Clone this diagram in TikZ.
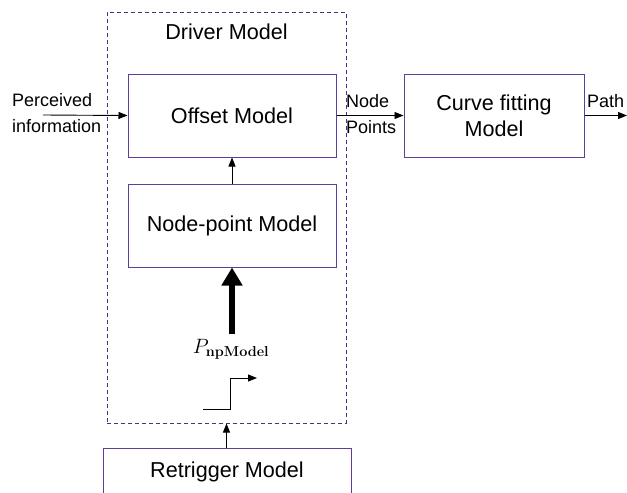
\documentclass[tikz,border=0pt]{standalone}
\usepackage{amsmath}
\usepackage[no-math]{fontspec}
\setmainfont{Liberation Sans}
\usetikzlibrary{arrows.meta,positioning}
\definecolor{boxpurple}{HTML}{5E3E96}
\definecolor{dashpurple}{HTML}{4F2D86}

\tikzset{
  modelbox/.style={draw=boxpurple,line width=1pt,inner sep=0pt,align=center,font=\fontsize{21.6}{26}\selectfont},
  drvbox/.style={draw=dashpurple,line width=1pt,dash pattern=on 4pt off 3pt,inner sep=0pt},
  sig/.style={font=\fontsize{18}{26}\selectfont,inner sep=0pt,align=left},
  flow/.style={line width=0.9pt,-{Triangle[length=9pt,width=7pt]}}
}

\begin{document}
\begin{tikzpicture}[x=1pt,y=-1pt]
        \useasboundingbox (0,0) rectangle (627,493);
        % driver model frame
        \node[drvbox,minimum width=239pt,minimum height=411pt] (driver) at (226.5,217.5) {};
        \node[font=\fontsize{21.6}{26}\selectfont,inner sep=0pt] (drvlabel) at (226.5,32) {Driver Model};
        % boxes
        \node[modelbox,minimum width=208pt,minimum height=83pt] (offset) at (232,115.5) {Offset Model};
        \node[modelbox,minimum width=208pt,minimum height=83pt] (nodept) at (232,225.5) {Node-point Model};
        \node[modelbox,minimum width=180pt,minimum height=83pt] (curve) at (494,115.5) {Curve fitting\\Model};
        \node[modelbox,minimum width=248pt,minimum height=48pt] (retrig) at (227,472) {Retrigger Model};
        % signals
        \node[sig,anchor=west] (percv) at (12,113.5) {Perceived\\information};
        \coordinate (pin) at (43,115);
        \draw[flow] (pin) -- (offset.west);
        \node[sig,anchor=west] (nodepts) at (346,114.5) {Node\\Points};
        \draw[flow] (offset.east) -- (curve.west);
        \node[sig,anchor=west] (pathlbl) at (587,101) {Path};
        \coordinate (pathend) at (627,115.5);
        \draw[flow] (curve.east) -- (pathend);
        \draw[flow] (nodept.north) -- (offset.south);
        % np model input
        \coordinate (pfoot) at (232,334);
        \draw[line width=6.5pt,-{Triangle[length=18pt,width=20pt]}] (pfoot) -- (nodept.south);
        \node[font=\fontsize{22.5}{26}\selectfont,inner sep=0pt] (plabel) at (231,349) {$P_{\mathbf{npModel}}$};
        % trigger step
        \coordinate (st1) at (203,409);
        \coordinate (st2) at (230,409);
        \coordinate (st3) at (230,378);
        \coordinate (st4) at (257,378);
        \draw[line width=0.8pt] (st1) -- (st2) -- (st3);
        \draw[flow] (st3) -- (st4);
        \draw[flow] (retrig.north -| driver.south) -- (driver.south);
      \end{tikzpicture}
\end{document}
